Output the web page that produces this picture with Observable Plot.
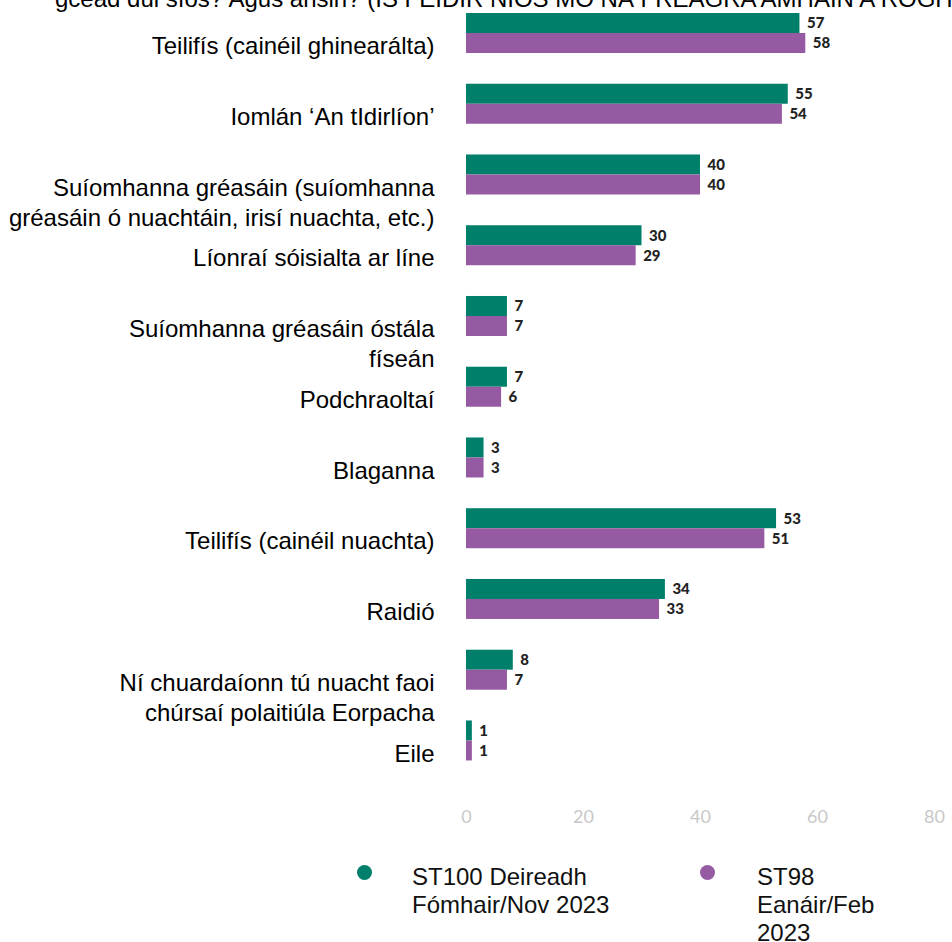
<!DOCTYPE html>
<html><head><meta charset="utf-8">
<script src="https://cdn.jsdelivr.net/npm/d3@7"></script>
<script src="https://cdn.jsdelivr.net/npm/@observablehq/plot@0.6"></script>
<style>
body{margin:0;background:#fff;font-family:"Liberation Sans",Arial,sans-serif;}
#wrap{position:relative;width:952px;height:942px;overflow:hidden;background:#fff;}
#chart{position:absolute;left:0;top:0;}
#title{position:absolute;left:55px;top:-15px;font-size:24px;white-space:nowrap;color:#000;}
.lg{position:absolute;font-size:24px;line-height:28px;color:#111;}
.dot{position:absolute;width:15px;height:15px;border-radius:50%;}
</style></head><body>
<div id="wrap"><div id="chart"></div><div id="title"></div><div id="legend"></div></div>
<script>
const title = "gcéad dul síos? Agus ansin? (IS FÉIDIR NÍOS MÓ NÁ FREAGRA AMHÁIN A ROGHNÚ)";
const categories = [
  "Teilifís (cainéil ghinearálta)",
  "Iomlán ‘An tIdirlíon’",
  "Suíomhanna gréasáin (suíomhanna\ngréasáin ó nuachtáin, irisí nuachta, etc.)",
  "Líonraí sóisialta ar líne",
  "Suíomhanna gréasáin óstála\nfíseán",
  "Podchraoltaí",
  "Blaganna",
  "Teilifís (cainéil nuachta)",
  "Raidió",
  "Ní chuardaíonn tú nuacht faoi\nchúrsaí polaitiúla Eorpacha",
  "Eile"
];
const seriesNames = ["ST100 Deireadh Fómhair/Nov 2023", "ST98 Eanáir/Feb 2023"];
const nov2023 = [57, 55, 40, 30, 7, 7, 3, 53, 34, 8, 1];
const feb2023 = [58, 54, 40, 29, 7, 6, 3, 51, 33, 7, 1];
const colors = ["#007f6b", "#955aa1"];
const xTicks = [0, 20, 40, 60, 80];

const rows = categories.flatMap((c, i) => [
  {category: c, series: seriesNames[0], value: nov2023[i]},
  {category: c, series: seriesNames[1], value: feb2023[i]}
]);

document.getElementById("title").textContent = title;

const chart = Plot.plot({
  width: 952, height: 830,
  marginTop: 13, marginBottom: 69, marginLeft: 466, marginRight: 18,
  style: {fontFamily: "'Liberation Sans', Arial, sans-serif", background: "transparent"},
  x: {domain: [0, 80]},
  y: {domain: seriesNames, padding: 0, axis: null},
  fy: {domain: categories, paddingInner: 0.427, paddingOuter: 0, round: false},
  color: {domain: seriesNames, range: colors},
  marks: [
    Plot.axisX({ticks: xTicks, tickSize: 0, tickPadding: 49, fontSize: 18, color: "#c8c8c8", fontFamily: "Lato, sans-serif", label: null}),
    Plot.axisFy({anchor: "left", tickSize: 0, tickPadding: 32, fontSize: 24, lineAnchor: "top", dy: -1, lineHeight: 1.25, color: "#000", label: null}),
    Plot.barX(rows, {x: "value", y: "series", fy: "category", fill: "series"}),
    Plot.text(rows, {x: "value", y: "series", fy: "category", text: "value", dx: 7, textAnchor: "start", fontWeight: 900, fontSize: 15, fontFamily: "Lato, sans-serif", fill: "#222"})
  ]
});
document.getElementById("chart").appendChild(chart);

const legend = document.getElementById("legend");
const lgPos = [{dx: 357, tx: 412, w: 205}, {dx: 700, tx: 757, w: 130}];
seriesNames.forEach((name, i) => {
  const d = document.createElement("div");
  d.className = "dot";
  d.style.left = lgPos[i].dx + "px";
  d.style.top = "865px";
  d.style.background = colors[i];
  legend.appendChild(d);
  const t = document.createElement("div");
  t.className = "lg";
  t.style.left = lgPos[i].tx + "px";
  t.style.top = "863px";
  t.style.width = lgPos[i].w + "px";
  t.textContent = name;
  legend.appendChild(t);
});
</script>
</body></html>
